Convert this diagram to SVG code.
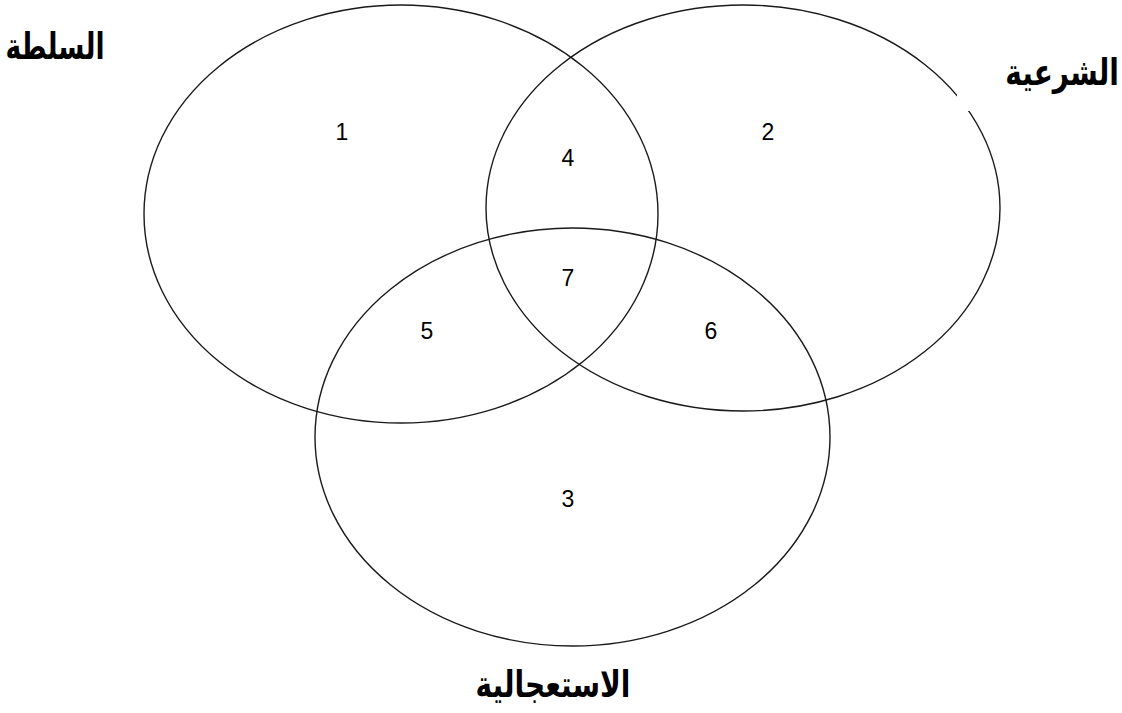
<svg xmlns="http://www.w3.org/2000/svg" width="1122" height="713" viewBox="0 0 1122 713">
<style>
.set{fill:none;stroke:#1a1a1a;stroke-width:1.4}
.num{font-family:"Liberation Sans",Arial,sans-serif;font-size:23px;fill:#000;text-anchor:middle}
.lbl{font-family:"DejaVu Sans","Liberation Sans",Arial,sans-serif;font-size:28px;font-weight:bold;fill:#000;text-anchor:middle}
</style>
<rect width="1122" height="713" fill="#fff"/>
<g id="set-authority">
<ellipse class="set" cx="401" cy="214" rx="257" ry="209"/>
</g>
<g id="set-legitimacy">
<ellipse class="set" cx="743" cy="208" rx="257" ry="203"/>
</g>
<g id="set-urgency">
<ellipse class="set" cx="572.5" cy="437" rx="257.5" ry="209"/>
</g>
<g id="label-authority">
<text class="lbl" transform="translate(55,59) scale(0.95,1.3)" direction="rtl" unicode-bidi="embed">السلطة</text>
</g>
<g id="label-legitimacy">
<rect x="957" y="55" width="165" height="56" fill="#fff"/>
<text class="lbl" transform="translate(1062,85) scale(1,1.3)" direction="rtl" unicode-bidi="embed">الشرعية</text>
</g>
<g id="label-urgency">
<text class="lbl" transform="translate(553,697) scale(1,1.3)" direction="rtl" unicode-bidi="embed">الاستعجالية</text>
</g>
<g id="regions">
<text class="num" x="342" y="140">1</text>
<text class="num" x="768" y="140">2</text>
<text class="num" x="568" y="507">3</text>
<text class="num" x="568" y="166">4</text>
<text class="num" x="427" y="339">5</text>
<text class="num" x="711" y="339">6</text>
<text class="num" x="568" y="286">7</text>
</g>
<g id="connectors"></g>
</svg>
